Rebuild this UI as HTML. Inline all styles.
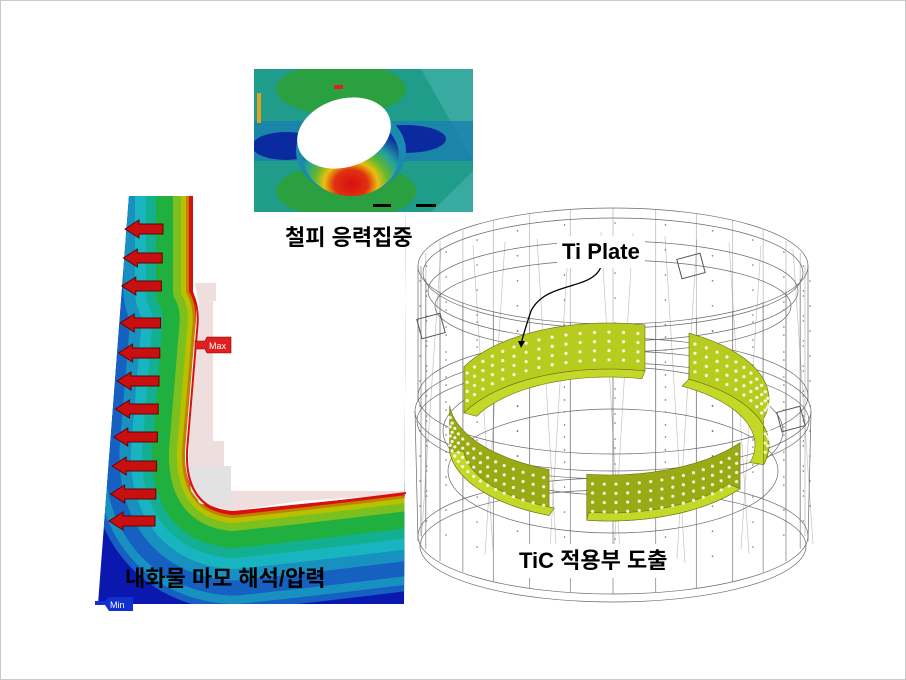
<!DOCTYPE html>
<html><head><meta charset="utf-8">
<style>
html,body{margin:0;padding:0;background:#fff;}
#w{position:relative;width:904px;height:678px;border:1px solid #c8c8c8;overflow:hidden;background:#fff;}
svg{position:absolute;left:0;top:0;}
.lbl{position:absolute;font-family:"Liberation Sans","Noto Sans CJK KR",sans-serif;font-weight:bold;font-size:22px;color:#000;white-space:nowrap;line-height:1;}
</style></head><body>
<div id="w">
<svg width="906" height="680" viewBox="0 0 906 680" xmlns="http://www.w3.org/2000/svg">
<defs>
<clipPath id="lc"><polygon points="128,195 405,195 403,603 97,603"/></clipPath>
<clipPath id="tc"><rect x="253" y="68" width="219" height="143"/></clipPath>
<radialGradient id="wallg" cx="0.5" cy="0.85" r="0.7">
<stop offset="0" stop-color="#d81010"/><stop offset="0.25" stop-color="#e03010"/><stop offset="0.4" stop-color="#e8c010"/><stop offset="0.55" stop-color="#60b830"/><stop offset="0.75" stop-color="#20a0a0"/><stop offset="1" stop-color="#1030a0"/>
</radialGradient>
</defs>
<!-- Left FEA -->
<g clip-path="url(#lc)">
<rect x="90" y="190" width="320" height="420" fill="#0a18b0"/>
<g id="bands" fill="none" stroke-linejoin="round" stroke-linecap="butt"></g>
<path d="M192,190 L410,190 L410,492 Q300,503 232,510 Q182,506 184,450 L194,330 Q197,306 192,290 Z" fill="#fff"/>
<polygon points="194,282 215,282 215,300 212,300 212,440 223,440 223,470 230,470 230,490 405,490 405,493 300,500 232,510 198,502 188,470 188,440 197,330 198,305" fill="#efdede"/>
<polygon points="188,465 230,465 230,505 200,503 190,490" fill="#e2e2e2"/>
</g>
<path d="M190,195 L190,290 Q199,305 196,330 L186,450 Q184,508 232,512 Q300,505 405,492" fill="none" stroke="#d81010" stroke-width="2"/>
<polygon points="194,340 204,340 206,336 230,336 230,352 206,352 204,348 194,348" fill="#e02020" stroke="#800" stroke-width="0.6"/>
<text x="208" y="348" font-family="Liberation Sans,sans-serif" font-size="9" fill="#fff">Max</text>
<polygon points="94,600 104,600 108,596 132,596 132,610 108,610 104,604 94,604" fill="#1030d0"/>
<text x="109" y="607" font-family="Liberation Sans,sans-serif" font-size="9" fill="#fff">Min</text>
<g id="arrows" fill="#c81010" stroke="#600" stroke-width="1"></g>
<!-- Top FEA -->
<g clip-path="url(#tc)">
<rect x="253" y="68" width="219" height="143" fill="#1f9c8a"/>
<polygon points="420,68 472,68 472,160" fill="#38aaa0"/>
<polygon points="430,211 472,211 472,170" fill="#38aaa0"/>
<ellipse cx="340" cy="88" rx="65" ry="26" fill="#2aa040"/>
<ellipse cx="345" cy="190" rx="70" ry="28" fill="#2aa040"/>
<rect x="253" y="120" width="219" height="40" fill="#1a7eb0" opacity="0.8"/>
<ellipse cx="285" cy="145" rx="34" ry="14" fill="#0c2aa0"/>
<ellipse cx="405" cy="138" rx="40" ry="14" fill="#0c2aa0"/>
<ellipse cx="350" cy="150" rx="55" ry="44" fill="#1a8ab0"/>
<ellipse cx="350" cy="155" rx="48" ry="40" fill="url(#wallg)"/>
<ellipse cx="343" cy="132" rx="48" ry="34" transform="rotate(-18 343 132)" fill="#fff"/>
<rect x="333" y="84" width="9" height="4" fill="#e02020"/>
<rect x="372" y="203" width="18" height="3" fill="#000"/>
<rect x="415" y="203" width="20" height="3" fill="#000"/>
<rect x="256" y="92" width="4" height="30" fill="#e0a020"/>
</g>
<!-- Cylinder -->
<g id="cyl" fill="none" stroke="#6a6a6a" stroke-width="0.7"></g>
<g id="ring"></g>
<path d="M600,266 C590,290 545,280 530,310 C525,325 522,335 520,343" fill="none" stroke="#000" stroke-width="1.3"/>
<polygon points="517,340 524,340 520,347" fill="#000"/>
</svg>
<div class="lbl" style="left:284px;top:226px;">철피 응력집중</div>
<div class="lbl" style="left:124px;top:567px;">내화물 마모 해석/압력</div>
<div class="lbl" style="left:556px;top:235px;background:#fff;padding:5px 5px;">Ti Plate</div>
<div class="lbl" style="left:510px;top:543px;background:#fff;padding:6px 8px;">TiC 적용부 도출</div>
</div>
<script>
var NS="http://www.w3.org/2000/svg";
function el(p,t,a){var e=document.createElementNS(NS,t);for(var k in a)e.setAttribute(k,a[k]);p.appendChild(e);return e;}
var D="M190,195 L190,290 Q199,305 196,330 L186,450 Q184,508 232,512 Q300,505 405,492";
var D2="M186,450 Q184,508 232,512 Q300,505 405,492";
var b=document.getElementById("bands");
[["#1560c0",165,150],["#1890c0",135,140],["#18b4c0",112,125],["#12b090",90,105],["#20b040",70,80],["#7cc020",36,50],["#b8c000",20,26],["#c08000",10,12],["#d81010",4,4]].forEach(function(s){
 el(b,"path",{d:D2,stroke:s[0],"stroke-width":s[2]*1.3});
});
[["#1560c0",165],["#1890c0",135],["#18b4c0",112],["#12b090",90],["#20b040",70],["#7cc020",36],["#b8c000",20],["#c08000",10],["#d81010",4]].forEach(function(s){el(b,"path",{d:D,stroke:s[0],"stroke-width":s[1]});});
var ar=document.getElementById("arrows");
[228,257,285,322,352,380,408,436,465,493,520].forEach(function(y,i){
 var x0=124-i*1.6,x1=162-i*0.8;
 el(ar,"polygon",{points:[x0,y,(x0+14),y-9,(x0+14),y-5,x1,y-5,x1,y+5,(x0+14),y+5,(x0+14),y+9].join(" ")});
});
var c=document.getElementById("cyl");
var cx=612;
[[265,195,58],[272,190,55],[290,185,50],[305,178,46],[395,195,58],[410,198,60],[420,196,58],[535,195,58],[545,193,56],[470,165,62],[430,170,64]].forEach(function(e){el(c,"ellipse",{cx:cx,cy:e[0],rx:e[1],ry:e[2]});});
el(c,"line",{x1:417,y1:265,x2:417,y2:400});el(c,"line",{x1:807,y1:265,x2:807,y2:400});
el(c,"line",{x1:414,y1:410,x2:417,y2:540});el(c,"line",{x1:810,y1:410,x2:807,y2:540});
for(var i=0;i<28;i++){var t=i/28*Math.PI*2;var s=Math.sin(t);var x=cx+192*Math.cos(t);
 var y1=265+58*s,y2=535+58*s;el(c,"line",{x1:x,y1:y1,x2:x,y2:y2,opacity:(s>0?0.9:0.5)});}
for(var i=0;i<12;i++){var x=440+i*32;el(c,"line",{x1:x,y1:230+Math.abs(x-612)*0.1,x2:x+(i%2?20:-20),y2:570-Math.abs(x-612)*0.15,opacity:0.4});}
for(var k=0;k<24;k++){var t=k/24*Math.PI*2;var x=cx+195*Math.cos(t);for(var j=0;j<10;j++){el(c,"circle",{cx:x+2,cy:280+58*Math.sin(t)+j*25,r:0.8,fill:"#777",stroke:"none"});}}
[[430,325],[690,265],[790,418],[520,480]].forEach(function(p){el(c,"rect",{x:p[0]-12,y:p[1]-10,width:24,height:20,transform:"rotate(-15 "+p[0]+" "+p[1]+")",stroke:"#555","stroke-width":1});});
var r=document.getElementById("ring");
var rcx=608,rcy=398,rx=160,ry=76,h=46,irx=146,iry=68;
function P(a,rxx,ryy,dy){var t=a*Math.PI/180;return [rcx+rxx*Math.cos(t),rcy+ryy*Math.sin(t)+dy];}
function seg(a1,a2,front){
 var pts=[],n=30,i,a;
 for(i=0;i<=n;i++){a=a1+(a2-a1)*i/n;pts.push(P(a,rx,ry,0));}
 for(i=n;i>=0;i--){a=a1+(a2-a1)*i/n;pts.push(P(a,rx,ry,h));}
 var fl=[];
 for(i=0;i<=n;i++){a=a1+(a2-a1)*i/n;fl.push(P(a,rx,ry,h));}
 for(i=n;i>=0;i--){a=a1+(a2-a1)*i/n;fl.push(P(a,irx,iry,h));}
 if(!front)el(r,"polygon",{points:fl.join(" "),fill:"#c4d828",stroke:"#6a7010","stroke-width":0.6});
 el(r,"polygon",{points:pts.join(" "),fill:front?"#9aaa14":"#b8cc20",stroke:"#6a7010","stroke-width":0.6});
 if(front)el(r,"polygon",{points:fl.join(" "),fill:"#c4d828",stroke:"#6a7010","stroke-width":0.6});
 for(i=1;i<n;i+=2){a=a1+(a2-a1)*i/n;for(var j=1;j<5;j++){var p=P(a,rx,ry,j*h/5);el(r,"circle",{cx:p[0],cy:p[1],r:1.6,fill:"#fff",opacity:0.85});}}
}
seg(205,283,false);
seg(300,375,false);
seg(112,175,true);
seg(35,98,true);
</script>
</body></html>
